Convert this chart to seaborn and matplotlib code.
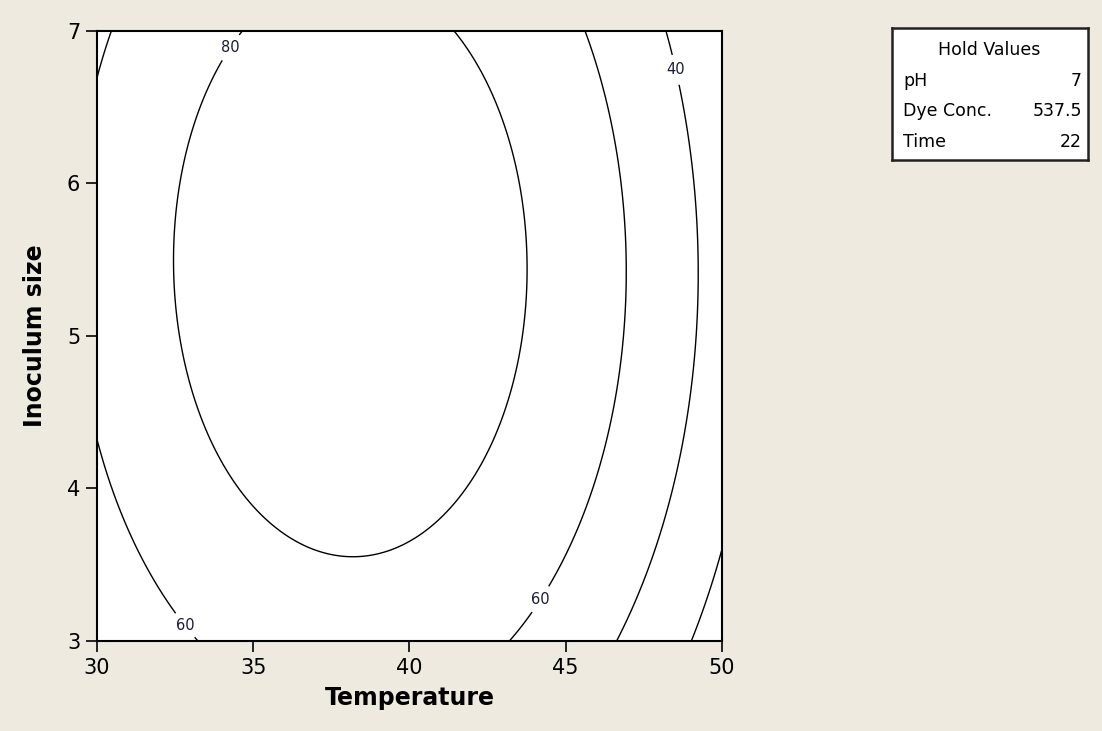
"""
Contour plot of decolourisation (%) vs Temperature and Inoculum size,
with pH, dye concentration and time held constant.
"""
import matplotlib
matplotlib.use("Agg")
import matplotlib.pyplot as plt
import numpy as np
import seaborn as sns

# axis ranges / ticks
temp_range = [30, 50]
inoc_range = [3, 7]
temp_ticks = [30, 35, 40, 45, 50]
inoc_ticks = [3, 4, 5, 6, 7]
contour_levels = [20, 40, 60, 80]

# fitted quadratic response surface (matched to the plotted contours)
# Y = b0 + b1*T + b2*I + b11*T^2 + b22*I^2 + b12*T*I
b0 = -659.2837
b_lin = [33.35594, 43.04020]
b_sq = [-0.43491, -3.80422]
b_int = -0.03809

hold_names = ["pH", "Dye Conc.", "Time"]
hold_values = ["7", "537.5", "22"]

# where the level labels sit on the lines
label_spots = [(34.2, 6.9), (48.45, 6.74), (44.0, 3.3), (32.8, 3.1)]

bg = "#EEEAE0"

sns.set_style("ticks")
plt.rcParams["font.family"] = ["DejaVu Sans"]
plt.rcParams["text.color"] = "black"
plt.rcParams["axes.labelcolor"] = "black"

fig = plt.figure(figsize=(11.02, 7.31), dpi=100, facecolor=bg)
ax = fig.add_axes([0.088, 0.123, 0.567, 0.835])
ax.set_facecolor("white")

T, I = np.meshgrid(np.linspace(*temp_range, 300), np.linspace(*inoc_range, 300))
Z = (b0 + b_lin[0] * T + b_lin[1] * I + b_sq[0] * T**2 + b_sq[1] * I**2
     + b_int * T * I)

cs = ax.contour(T, I, Z, levels=contour_levels, colors="black", linewidths=1.0)
labels = ax.clabel(cs, fmt="%d", fontsize=10.5, inline=True, inline_spacing=6,
                   manual=label_spots, colors="#1a1a3a")
for t in labels:
    t.set_rotation(0)

ax.set_xlim(temp_range)
ax.set_ylim(inoc_range)
ax.set_xticks(temp_ticks)
ax.set_yticks(inoc_ticks)
ax.tick_params(axis="both", direction="out", length=8, width=1.2,
               labelsize=15, colors="black", pad=4)
for side in ax.spines.values():
    side.set_visible(True)
    side.set_color("black")
    side.set_linewidth(1.5)

ax.set_xlabel("Temperature", fontsize=17, fontweight="bold", labelpad=6)
ax.set_ylabel("Inoculum size", fontsize=17, fontweight="bold", labelpad=14)

# hold values box
box = fig.add_axes([0.809, 0.781, 0.178, 0.181])
box.set_facecolor("white")
box.set_xticks([])
box.set_yticks([])
for side in box.spines.values():
    side.set_color("#222222")
    side.set_linewidth(1.8)
box.text(0.5, 0.83, "Hold Values", ha="center", va="center", fontsize=12.5,
         transform=box.transAxes)
for k, (name, val) in enumerate(zip(hold_names, hold_values)):
    y = 0.6 - k * 0.23
    box.text(0.06, y, name, ha="left", va="center", fontsize=12.5,
             transform=box.transAxes)
    box.text(0.97, y, val, ha="right", va="center", fontsize=12.5,
             transform=box.transAxes)

fig.savefig("out.png", dpi=100, facecolor=bg)
